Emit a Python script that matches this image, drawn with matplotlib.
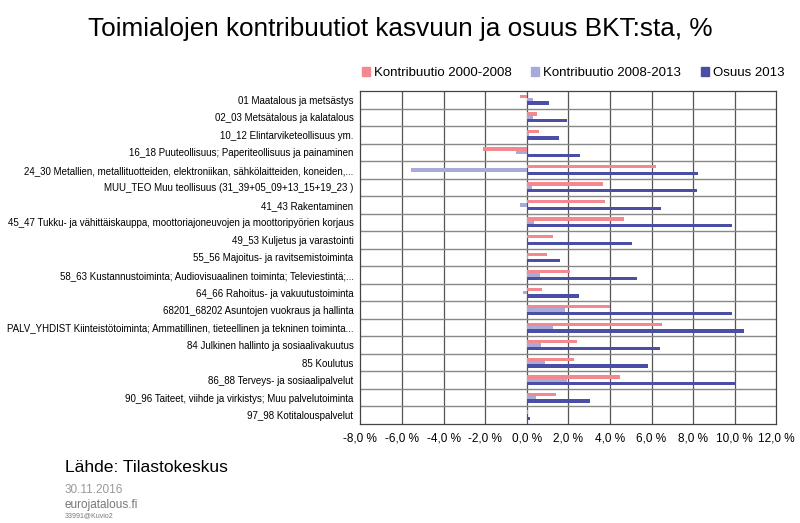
import numpy as np
import matplotlib
matplotlib.use('Agg')
import matplotlib.pyplot as plt
from matplotlib.patches import Patch
from matplotlib.ticker import FuncFormatter, MultipleLocator

plt.rcParams['font.family'] = ['Liberation Sans', 'DejaVu Sans']

toimialat = [
    '01 Maatalous ja metsästys',
    '02_03 Metsätalous ja kalatalous',
    '10_12 Elintarviketeollisuus ym.',
    '16_18 Puuteollisuus; Paperiteollisuus ja painaminen',
    '24_30 Metallien, metallituotteiden, elektroniikan, sähkölaitteiden, koneiden,...',
    'MUU_TEO Muu teollisuus (31_39+05_09+13_15+19_23 )',
    '41_43 Rakentaminen',
    '45_47 Tukku- ja vähittäiskauppa, moottoriajoneuvojen ja moottoripyörien korjaus',
    '49_53 Kuljetus ja varastointi',
    '55_56 Majoitus- ja ravitsemistoiminta',
    '58_63 Kustannustoiminta; Audiovisuaalinen toiminta; Televiestintä;...',
    '64_66 Rahoitus- ja vakuutustoiminta',
    '68201_68202 Asuntojen vuokraus ja hallinta',
    'PALV_YHDIST Kiinteistötoiminta; Ammatillinen, tieteellinen ja tekninen toiminta...',
    '84 Julkinen hallinto ja sosiaalivakuutus',
    '85 Koulutus',
    '86_88 Terveys- ja sosiaalipalvelut',
    '90_96 Taiteet, viihde ja virkistys; Muu palvelutoiminta',
    '97_98 Kotitalouspalvelut',
]
kontr_2000_2008 = [-0.34, 0.51, 0.58, -2.1, 6.2, 3.65, 3.77, 4.7, 1.25, 0.98,
                   2.1, 0.74, 3.98, 6.51, 2.42, 2.29, 4.49, 1.41, 0.08]
kontr_2008_2013 = [0.3, 0.29, 0.1, -0.5, -5.58, 0.26, -0.34, 0.35, 0.02, 0.04,
                   0.63, -0.18, 1.83, 1.25, 0.71, 0.9, 1.96, 0.47, 0.01]
osuus_2013 = [1.06, 1.94, 1.56, 2.55, 8.23, 8.2, 6.45, 9.86, 5.08, 1.6,
              5.31, 2.49, 9.88, 10.47, 6.42, 5.85, 9.99, 3.03, 0.14]

c_pink = '#F4888F'
c_light = '#A8AADA'
c_dark = '#4A4FA5'

fig = plt.figure(figsize=(8, 5.23), dpi=100)
ax = fig.add_axes([0.4504, 0.1893, 0.52, 0.6367])

y = np.arange(len(toimialat))
h = 0.19
ax.barh(y - h, kontr_2000_2008, height=h, color=c_pink, zorder=3)
ax.barh(y, kontr_2008_2013, height=h, color=c_light, zorder=3)
ax.barh(y + h, osuus_2013, height=h, color=c_dark, zorder=3)

ax.set_xlim(-8, 12)
ax.set_ylim(len(toimialat) - 0.5, -0.5)
ax.xaxis.set_major_locator(MultipleLocator(2))
ax.xaxis.set_major_formatter(FuncFormatter(lambda v, p: ('%.1f %%' % v).replace('.', ',')))
ax.set_yticks(y)
ax.set_yticklabels(toimialat, fontsize=7.0)
ax.tick_params(axis='x', labelsize=8.5, length=0, pad=6)
ax.tick_params(axis='y', length=0, pad=5)

for xv in np.arange(-6, 12, 2):
    ax.axvline(xv, color='#555555', lw=0.9, zorder=1)
for yv in np.arange(0.5, len(toimialat) - 0.5, 1):
    ax.axhline(yv, color='#888888', lw=1.0, zorder=1)
for s in ax.spines.values():
    s.set_color('#444444')
    s.set_linewidth(0.9)

fig.text(0.5, 0.945, 'Toimialojen kontribuutiot kasvuun ja osuus BKT:sta, %',
         ha='center', va='center', fontsize=18.8)

handles = [Patch(color=c_pink), Patch(color=c_light), Patch(color=c_dark)]
fig.legend(handles, ['Kontribuutio 2000-2008', 'Kontribuutio 2008-2013', 'Osuus 2013'],
           loc='center right', bbox_to_anchor=(0.995, 0.86), ncol=3, frameon=False,
           fontsize=9.5, handlelength=0.6, handleheight=0.6, handletextpad=0.3,
           columnspacing=1.5)

fig.text(0.081, 0.107, 'Lähde: Tilastokeskus', fontsize=12.6, va='center')
fig.text(0.081, 0.063, '30.11.2016', fontsize=8.5, color='#999999', va='center')
fig.text(0.081, 0.035, 'eurojatalous.fi', fontsize=8.5, color='#777777', va='center')
fig.text(0.081, 0.014, '33991@Kuvio2', fontsize=5, color='#777777', va='center')

fig.savefig('out.png', dpi=100)
